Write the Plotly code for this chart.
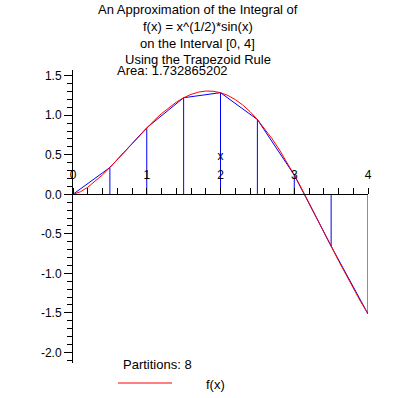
import plotly.graph_objects as go

# ---- data ----
curve_x = [0.0, 0.1, 0.2, 0.3, 0.4, 0.5, 0.6, 0.7, 0.8, 0.9, 1.0, 1.1, 1.2, 1.3, 1.4,
           1.5, 1.6, 1.7, 1.8, 1.9, 2.0, 2.1, 2.2, 2.3, 2.4, 2.5, 2.6, 2.7, 2.8, 2.9,
           3.0, 3.1, 3.2, 3.3, 3.4, 3.5, 3.6, 3.7, 3.8, 3.9, 4.0]
curve_y = [0.0, 0.032, 0.089, 0.162, 0.246, 0.339, 0.437, 0.539, 0.642, 0.743, 0.842,
           0.935, 1.021, 1.099, 1.166, 1.222, 1.264, 1.293, 1.307, 1.304, 1.286, 1.251,
           1.199, 1.131, 1.047, 0.946, 0.831, 0.702, 0.561, 0.407, 0.244, 0.073, -0.105,
           -0.287, -0.471, -0.656, -0.840, -1.019, -1.193, -1.358, -1.514]
node_x = [0.0, 0.5, 1.0, 1.5, 2.0, 2.5, 3.0, 3.5, 4.0]
node_y = [0.0, 0.339, 0.842, 1.222, 1.286, 0.946, 0.244, -0.656, -1.514]
y_tickvals = [-2.0, -1.5, -1.0, -0.5, 0.0, 0.5, 1.0, 1.5]
y_ticktext = ["-2.0", "-1.5", "-1.0", "-0.5", "0.0", "0.5", "1.0", "1.5"]
x_tickvals = [0, 1, 2, 3, 4]
x_ticktext = ["0", "1", "2", "3", "4"]
title_lines = ["An Approximation of the Integral of", "f(x) = x^(1/2)*sin(x)",
               "on the Interval [0, 4]", "Using the Trapezoid Rule"]
area_text = "Area: 1.732865202"
partitions_text = "Partitions: 8"
legend_text = "f(x)"
x_range = [0, 4]
y_range = [-2.135, 1.573]

W, H = 398, 398
ML, MT = 73, 70
PW, PH = 295, 293
MR, MB = W - ML - PW, H - MT - PH
FONT = "Liberation Sans, Arial, sans-serif"


def pxx(p):
    return (p - ML) / PW


def pxy(p):
    return (MT + PH - p) / PH


fig = go.Figure()

# vertical partition lines
vx, vy = [], []
for xv, yv in zip(node_x[1:], node_y[1:]):
    vx += [xv, xv, None]
    vy += [0, yv, None]
fig.add_trace(go.Scatter(x=vx, y=vy, mode="lines", line=dict(color="#0000ff", width=1),
                         hoverinfo="skip", showlegend=False))
# trapezoid polyline
fig.add_trace(go.Scatter(x=node_x, y=node_y, mode="lines", line=dict(color="#0000ff", width=1),
                         showlegend=False))
# function curve
fig.add_trace(go.Scatter(x=curve_x, y=curve_y, mode="lines", line=dict(color="#ff0000", width=1),
                         showlegend=False))

xpos = (0 - y_range[0]) / (y_range[1] - y_range[0])

annotations = []
for i, t in enumerate(title_lines):
    annotations.append(dict(text=t, x=pxx(197.5), y=pxy(9.5 + 16.8 * i), xref="paper", yref="paper",
                            xanchor="center", yanchor="middle", showarrow=False,
                            font=dict(family=FONT, size=13, color="black")))
annotations.append(dict(text=area_text, x=pxx(114.5), y=pxy(70.5), xref="paper", yref="paper",
                        xanchor="left", yanchor="middle", showarrow=False,
                        font=dict(family=FONT, size=13, color="black")))
annotations.append(dict(text=partitions_text, x=pxx(157.5), y=pxy(364.5), xref="paper", yref="paper",
                        xanchor="center", yanchor="middle", showarrow=False,
                        font=dict(family=FONT, size=13, color="black")))
annotations.append(dict(text=legend_text, x=pxx(203.5), y=pxy(384), xref="paper", yref="paper",
                        xanchor="left", yanchor="middle", showarrow=False,
                        font=dict(family=FONT, size=13, color="black")))

fig.update_layout(
    width=W, height=H,
    margin=dict(l=ML, r=MR, t=MT, b=MB, pad=0, autoexpand=False),
    paper_bgcolor="white", plot_bgcolor="white",
    font=dict(family=FONT, size=12, color="black"),
    annotations=annotations,
    shapes=[dict(type="line", xref="paper", yref="paper", x0=pxx(118), x1=pxx(172),
                 y0=pxy(383), y1=pxy(383), line=dict(color="#ff0000", width=1))],
    xaxis=dict(range=x_range, showgrid=False, zeroline=False, showline=True, linecolor="black",
               linewidth=1, anchor="free", position=xpos, side="top", automargin=False,
               ticks="outside", ticklen=6, tickcolor="black",
               tickmode="array", tickvals=x_tickvals, ticktext=x_ticktext,
               ticklabelstandoff=4,
               tickfont=dict(family=FONT, size=12, color="black"),
               minor=dict(dtick=0.2, tick0=0, ticks="outside", ticklen=6, tickcolor="black", showgrid=False),
               title=dict(text="x", standoff=4, font=dict(family=FONT, size=12, color="black"))),
    yaxis=dict(range=y_range, showgrid=False, zeroline=False, showline=True, linecolor="black",
               linewidth=1, ticks="outside", ticklen=8, tickcolor="black", automargin=False,
               tickmode="array", tickvals=y_tickvals, ticktext=y_ticktext,
               tickfont=dict(family=FONT, size=12, color="black"),
               minor=dict(dtick=0.1, tick0=0, ticks="outside", ticklen=5, tickcolor="black", showgrid=False)),
)

fig.write_html("out.html", config=dict(displayModeBar=False),
               post_script="document.body.style.margin='0';document.body.style.overflow='hidden';")
